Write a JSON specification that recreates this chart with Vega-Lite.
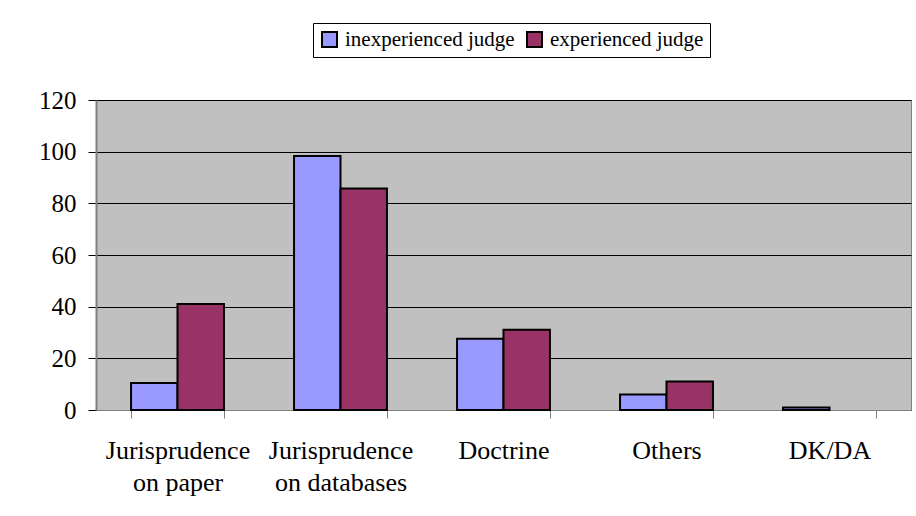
{
  "$schema": "https://vega.github.io/schema/vega-lite/v6.json",
  "width": 815,
  "height": 310,
  "autosize": {"type": "none"},
  "padding": {"left": 96, "top": 100, "right": 5, "bottom": 106},
  "background": "white",
  "config": {
    "font": "Liberation Serif",
    "axis": {"labelFont": "Liberation Serif"},
    "legend": {"labelFont": "Liberation Serif"},
    "view": {"fill": "#C0C0C0", "stroke": "#808080", "strokeWidth": 1}
  },
  "data": {
    "values": [
      {"source": "Jurisprudence on paper", "judge": "inexperienced judge", "count": 10.5},
      {"source": "Jurisprudence on paper", "judge": "experienced judge", "count": 41},
      {"source": "Jurisprudence on databases", "judge": "inexperienced judge", "count": 98.3},
      {"source": "Jurisprudence on databases", "judge": "experienced judge", "count": 85.7},
      {"source": "Doctrine", "judge": "inexperienced judge", "count": 27.6},
      {"source": "Doctrine", "judge": "experienced judge", "count": 31.1},
      {"source": "Others", "judge": "inexperienced judge", "count": 6},
      {"source": "Others", "judge": "experienced judge", "count": 11},
      {"source": "DK/DA", "judge": "inexperienced judge", "count": 1}
    ]
  },
  "mark": {"type": "bar", "stroke": "black", "strokeWidth": 2},
  "encoding": {
    "x": {
      "field": "source",
      "type": "nominal",
      "sort": ["Jurisprudence on paper", "Jurisprudence on databases", "Doctrine", "Others", "DK/DA"],
      "title": null,
      "scale": {"paddingInner": 0.43, "paddingOuter": 0.215},
      "axis": {
        "labelAngle": 0,
        "labelFont": "Liberation Serif",
        "labelFontSize": 26,
        "labelColor": "black",
        "labelPadding": 19,
        "labelLineHeight": 32,
        "labelLimit": 0,
        "tickBand": "extent",
        "tickColor": "#808080",
        "tickSize": 8,
        "tickWidth": 1,
        "domainColor": "#808080",
        "domainWidth": 1,
        "labelExpr": "indexof(datum.label, ' on ') > 0 ? [substring(datum.label, 0, indexof(datum.label, ' on ')), substring(datum.label, indexof(datum.label, ' on ') + 1)] : datum.label"
      }
    },
    "xOffset": {"field": "judge", "type": "nominal", "sort": ["inexperienced judge", "experienced judge"], "scale": {"domain": ["inexperienced judge", "experienced judge"]}},
    "y": {
      "field": "count",
      "type": "quantitative",
      "title": null,
      "scale": {"domain": [0, 120], "nice": false},
      "axis": {
        "values": [0, 20, 40, 60, 80, 100, 120],
        "labelFont": "Liberation Serif",
        "labelFontSize": 25,
        "labelColor": "black",
        "labelPadding": 12,
        "tickColor": "black",
        "tickSize": 8,
        "domainColor": "#808080",
        "domainWidth": 2,
        "grid": true,
        "gridColor": "black",
        "gridWidth": 1
      }
    },
    "color": {
      "field": "judge",
      "type": "nominal",
      "scale": {"domain": ["inexperienced judge", "experienced judge"], "range": ["#9999FF", "#993366"]},
      "legend": {
        "title": null,
        "orient": "none",
        "legendX": 217,
        "legendY": -77,
        "direction": "horizontal",
        "columns": 2,
        "labelFont": "Liberation Serif",
        "labelFontSize": 21,
        "labelColor": "black",
        "labelLimit": 0,
        "symbolType": "square",
        "symbolSize": 225,
        "symbolStrokeColor": "black",
        "symbolStrokeWidth": 2,
        "symbolOpacity": 1,
        "labelOffset": 5,
        "columnPadding": 8,
        "strokeColor": "black",
        "padding": 6,
        "fillColor": "white"
      }
    }
  }
}
